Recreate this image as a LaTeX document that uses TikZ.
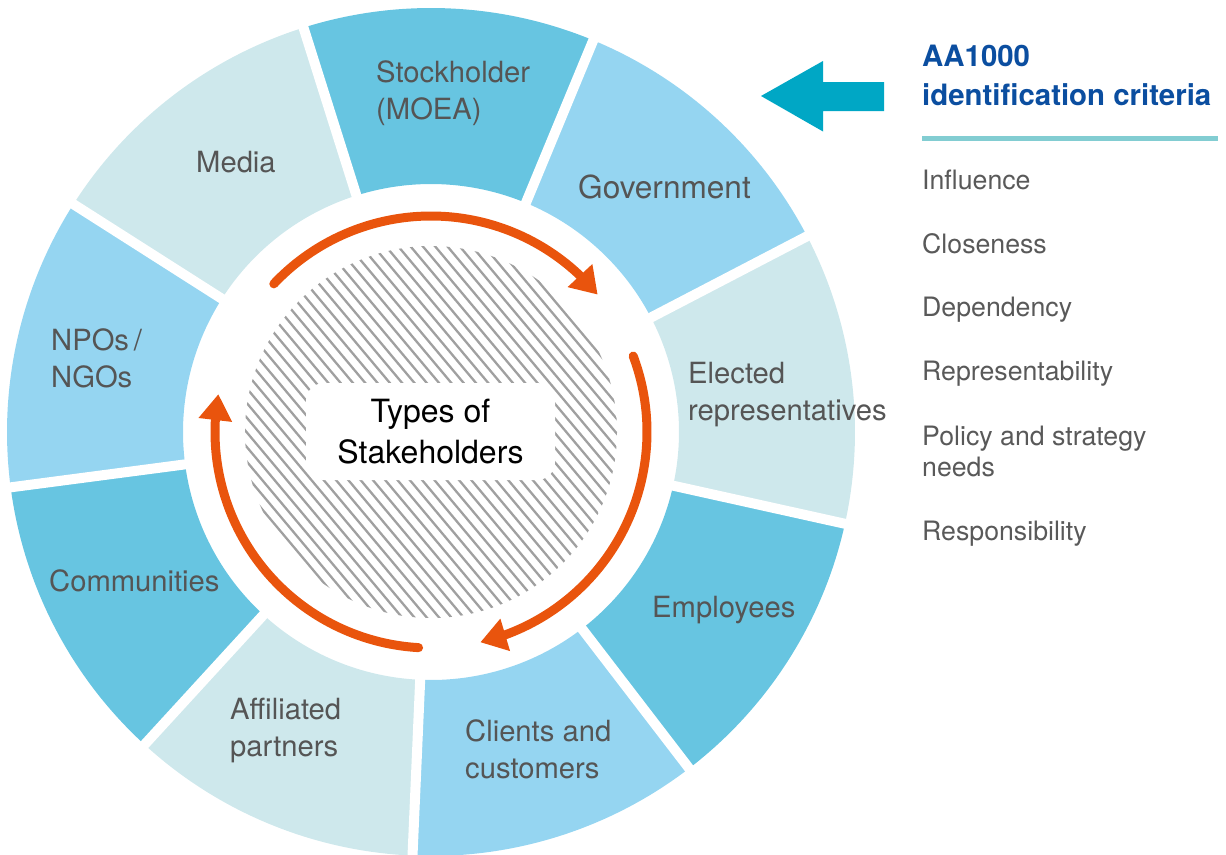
\documentclass[tikz,border=0pt]{standalone}
\usepackage{fontspec}
\setmainfont{TeX Gyre Heros}
\usetikzlibrary{arrows.meta,bending,calc}

\definecolor{segdark}{HTML}{67C5E1}
\definecolor{segmid}{HTML}{95D5F1}
\definecolor{seglight}{HTML}{CEE8EC}
\definecolor{labelgray}{HTML}{555555}
\definecolor{critgray}{HTML}{595959}
\definecolor{headblue}{HTML}{0B4EA0}
\definecolor{cyclecol}{HTML}{E9540D}
\definecolor{pointer}{HTML}{00A7C5}
\definecolor{rulecol}{HTML}{82CDD2}
\definecolor{hatchgray}{HTML}{A0A0A0}

\begin{document}
\begin{tikzpicture}[x=1pt,y=1pt,
  seglabel/.style={font=\fontsize{29.2}{37}\selectfont, text=labelgray,
    align=left, anchor=base west, inner sep=0pt},
  govlabel/.style={seglabel, font=\fontsize{31.6}{37}\selectfont},
  critlabel/.style={font=\fontsize{26.7}{31.7}\selectfont, text=critgray,
    align=left, anchor=base west, inner sep=0pt},
  headlabel/.style={font=\fontsize{29.4}{39}\selectfont\bfseries, text=headblue,
    align=left, anchor=base west, inner sep=0pt},
  gap/.style={white, line width=10pt},
  cycle/.style={cyclecol, line width=9pt, line cap=round,
    -{Triangle[length=26pt, width=32pt]}},
  hatch/.style={hatchgray, line width=2.3pt},
  hub/.style={fill=white, rounded corners=18pt, minimum width=249pt,
    minimum height=97pt, align=center, inner sep=0pt,
    font=\fontsize{32}{41.5}\selectfont, text=black},
]
\useasboundingbox (0,0) rectangle (1226,-854);
\coordinate (C) at (431,-432);

% ring of nine sectors, each 40 degrees wide
\foreach \a/\col in {67.5/segdark, 27.5/segmid, -12.5/seglight,
    -52.5/segdark, -92.5/segmid, -132.5/seglight,
    -172.5/segdark, 147.5/segmid, 107.5/seglight} {
  \fill[\col] ($(C)+(\a:424)$) arc[start angle=\a, end angle={\a+40}, radius=424]
    -- ($(C)+({\a+40}:248)$) arc[start angle={\a+40}, end angle=\a, radius=248] -- cycle;
}
% white separators between sectors
\foreach \a in {27.5, 67.5, 107.5, 147.5, 187.5, 227.5, 267.5, 307.5, 347.5} {
  \draw[gap] ($(C)+(\a:240)$) -- ($(C)+(\a:432)$);
}

% hatched core
\begin{scope}
  \clip (C) circle (186);
  \foreach \k in {-32,...,32} {
    \draw[hatch] ({431+\k*12.3+320*cos(50)}, {-432-320*sin(50)})
      -- ({431+\k*12.3-320*cos(50)}, {-432+320*sin(50)});
  }
\end{scope}

% central label
\node[hub] (core) at (430.5,-431.5) {Types of\\Stakeholders};

% circulating arrows
\draw[cycle] ($(C)+(136.7:216)$) arc[start angle=136.7, end angle=39.5, radius=216];
\draw[cycle] ($(C)+(20.6:216)$) arc[start angle=20.6, end angle=-76.8, radius=216];
\draw[cycle] ($(C)+(-93.3:216)$) arc[start angle=-93.3, end angle=-190.1, radius=216];

% sector labels (anchored at the baseline of the last line)
\node[seglabel] (stock) at (376,-119) {Stockholder\\(MOEA)};
\node[seglabel] (media) at (196,-172) {Media};
\node[govlabel] (gov) at (578,-198) {Government};
\node[seglabel] (elect) at (688,-420.7) {Elected\\representatives};
\node[seglabel] (emp) at (652,-617) {Employees};
\node[seglabel] (client) at (465,-778.3) {Clients and\\customers};
\node[seglabel] (affil) at (230,-756.7) {Affiliated\\partners};
\node[seglabel] (comm) at (49,-591) {Communities};
\node[seglabel] (npo) at (51,-387.3) {NPOs\,/\\NGOs};

% criteria panel
\fill[pointer] (761,-96) -- (823,-61) -- (823,-82) -- (884,-82) -- (884,-111)
  -- (823,-111) -- (823,-131.5) -- cycle;
\node[headlabel] (head) at (922,-105) {AA1000\\identification criteria};
\draw[rulecol, line width=4.5pt] (922,-138.5) -- (1218,-138.5);
\node[critlabel] (c1) at (922,-189) {Influence};
\node[critlabel] (c2) at (922,-253.3) {Closeness};
\node[critlabel] (c3) at (922,-316.7) {Dependency};
\node[critlabel] (c4) at (922,-380.7) {Representability};
\node[critlabel] (c5) at (922,-476.7) {Policy and strategy\\needs};
\node[critlabel] (c6) at (922,-540.7) {Responsibility};
\end{tikzpicture}
\end{document}
